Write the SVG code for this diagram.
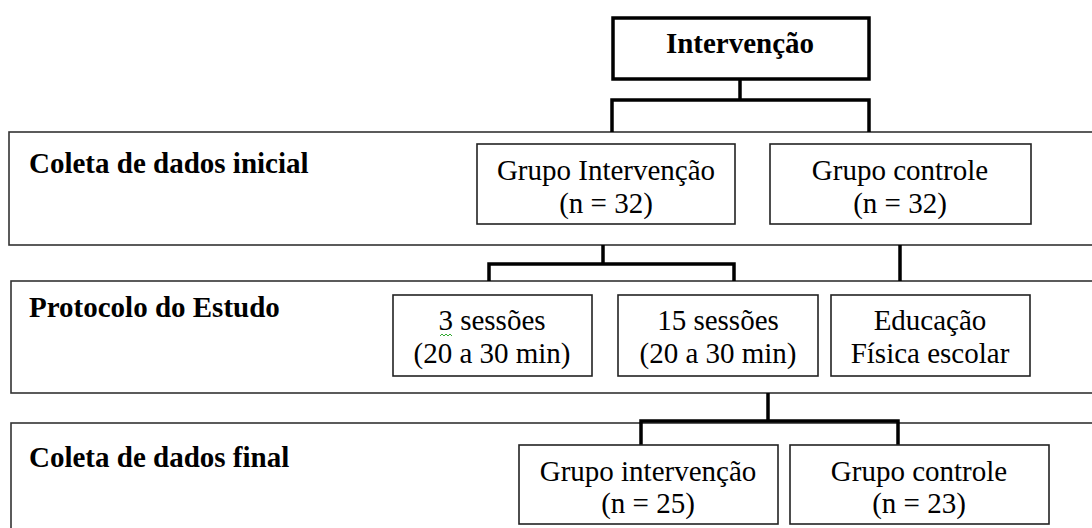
<svg xmlns="http://www.w3.org/2000/svg" width="1092" height="528" viewBox="0 0 1092 528">
<style>
.sec{fill:none;stroke:#333;stroke-width:1.6}
.box{fill:#fff;stroke:#222;stroke-width:1.6}
.top{fill:#fff;stroke:#000;stroke-width:3.5}
.con{fill:none;stroke:#000;stroke-width:3.5;stroke-linejoin:miter}
text{font-family:"Liberation Serif","Times New Roman",serif;font-size:29px;fill:#000}
.b{font-weight:bold}
.c{text-anchor:middle}
</style>
<rect width="1092" height="528" fill="#fff"/>
<g id="sec1"><rect class="sec" x="9" y="132" width="1100" height="113"/><text class="b" x="29" y="173">Coleta de dados inicial</text></g>
<g id="sec2"><rect class="sec" x="11" y="281" width="1100" height="112"/><text class="b" x="29" y="317">Protocolo do Estudo</text></g>
<g id="sec3"><rect class="sec" x="11" y="423" width="1100" height="120"/><text class="b" x="29" y="467">Coleta de dados final</text></g>
<g id="connectors">
<polyline class="con" points="740,79 740,100"/>
<polyline class="con" points="612,132 612,100 869,100 869,132"/>
<polyline class="con" points="603,245 603,264"/>
<polyline class="con" points="489,281 489,264 734,264 734,281"/>
<polyline class="con" points="900,245 900,281"/>
<polyline class="con" points="768,393 768,421"/>
<polyline class="con" points="641,445 641,421 898,421 898,445"/>
</g>
<g id="intervencao"><rect class="top" x="613" y="18" width="256" height="61"/><text class="b c" x="740" y="53">Intervenção</text></g>
<g id="grupo-intervencao"><rect class="box" x="477" y="144" width="258" height="80"/><text class="c" x="606" y="180">Grupo Intervenção</text><text class="c" x="606" y="213">(n = 32)</text></g>
<g id="grupo-controle"><rect class="box" x="770" y="144" width="261" height="80"/><text class="c" x="900" y="180">Grupo controle</text><text class="c" x="900" y="213">(n = 32)</text></g>
<g id="sessoes3"><rect class="box" x="393" y="295" width="199" height="81"/><text class="c" x="492" y="330">3 sessões</text><text class="c" x="492" y="363">(20 a 30 min)</text>
<polyline points="440,336 442,334 444,336 446,334 448,336 450,334 452,336" fill="none" stroke="#3a3" stroke-width="1"/></g>
<g id="sessoes15"><rect class="box" x="618" y="295" width="200" height="81"/><text class="c" x="718" y="330">15 sessões</text><text class="c" x="718" y="363">(20 a 30 min)</text></g>
<g id="educacao"><rect class="box" x="831" y="295" width="199" height="81"/><text class="c" x="930" y="330">Educação</text><text class="c" x="930" y="363">Física escolar</text></g>
<g id="final-intervencao"><rect class="box" x="519" y="445" width="259" height="79"/><text class="c" x="648" y="481">Grupo intervenção</text><text class="c" x="648" y="513">(n = 25)</text></g>
<g id="final-controle"><rect class="box" x="790" y="445" width="259" height="79"/><text class="c" x="919" y="481">Grupo controle</text><text class="c" x="919" y="513">(n = 23)</text></g>
</svg>
